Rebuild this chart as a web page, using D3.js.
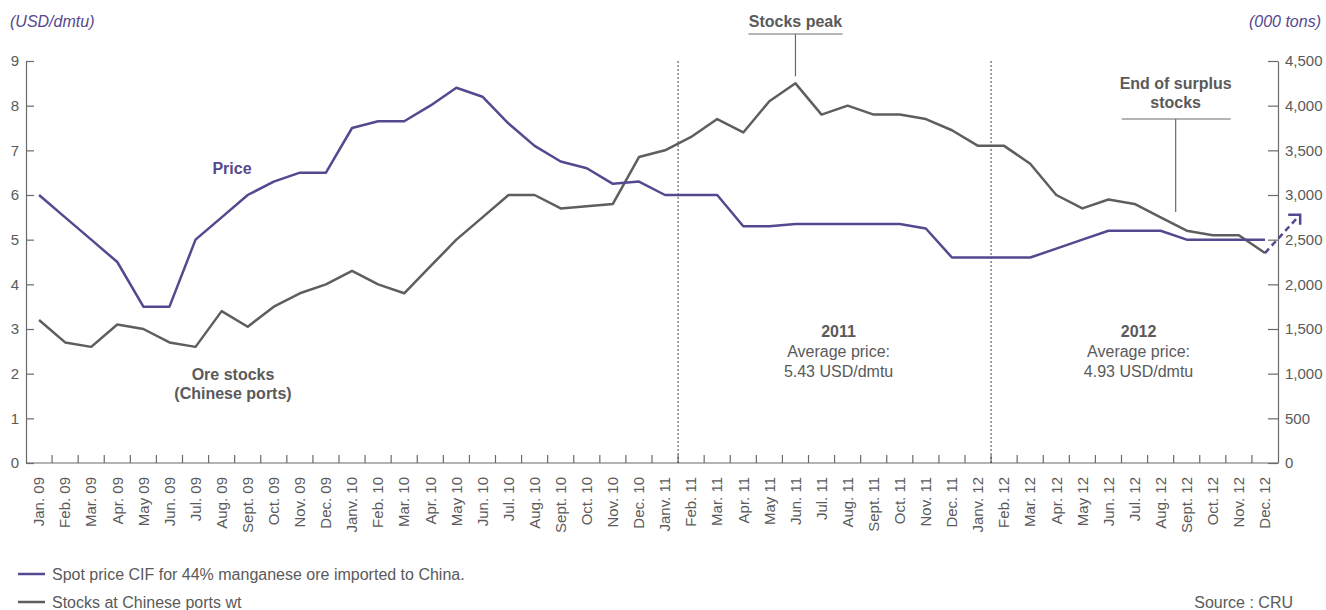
<!DOCTYPE html>
<html>
<head>
<meta charset="utf-8">
<script src="https://cdn.jsdelivr.net/npm/d3@7"></script>
<style>
  html, body { margin: 0; padding: 0; background: #fff; }
  svg { display: block; font-family: "Liberation Sans", Arial, Helvetica, sans-serif; }
</style>
</head>
<body>
<svg id="chart" width="1326" height="610"></svg>
<script>
// Months shown on the category axis
const months = [
  "Jan. 09","Feb. 09","Mar. 09","Apr. 09","May 09","Jun. 09","Jul. 09","Aug. 09","Sept. 09","Oct. 09","Nov. 09","Dec. 09",
  "Janv. 10","Feb. 10","Mar. 10","Apr. 10","May 10","Jun. 10","Jul. 10","Aug. 10","Sept. 10","Oct. 10","Nov. 10","Dec. 10",
  "Janv. 11","Feb. 11","Mar. 11","Apr. 11","May 11","Jun. 11","Jul. 11","Aug. 11","Sept. 11","Oct. 11","Nov. 11","Dec. 11",
  "Janv. 12","Feb. 12","Mar. 12","Apr. 12","May 12","Jun. 12","Jul. 12","Aug. 12","Sept. 12","Oct. 12","Nov. 12","Dec. 12"
];

// Spot price CIF, 44% Mn ore imported to China (USD/dmtu)
const price = [
  6.0, 5.5, 5.0, 4.5, 3.5, 3.5, 5.0, 5.5, 6.0, 6.3, 6.5, 6.5,
  7.5, 7.65, 7.65, 8.0, 8.4, 8.2, 7.6, 7.1, 6.75, 6.6, 6.25, 6.3,
  6.0, 6.0, 6.0, 5.3, 5.3, 5.35, 5.35, 5.35, 5.35, 5.35, 5.25, 4.6,
  4.6, 4.6, 4.6, 4.8, 5.0, 5.2, 5.2, 5.2, 5.0, 5.0, 5.0, 5.0
];

// Ore stocks at Chinese ports (000 tons)
const stocks = [
  1600, 1350, 1300, 1550, 1500, 1350, 1300, 1700, 1525, 1750, 1900, 2000,
  2150, 2000, 1900, 2200, 2500, 2750, 3000, 3000, 2850, 2875, 2900, 3425,
  3500, 3650, 3850, 3700, 4050, 4250, 3900, 4000, 3900, 3900, 3850, 3725,
  3550, 3550, 3350, 3000, 2850, 2950, 2900, 2750, 2600, 2550, 2550, 2350
];

// Axis tick values
const priceTicks = [0, 1, 2, 3, 4, 5, 6, 7, 8, 9];
const stockTicks = [0, 500, 1000, 1500, 2000, 2500, 3000, 3500, 4000, 4500];

// Outlook arrow: stocks expected to rise again after Dec. 12
const outlookTarget = 2780;

// Yearly average price annotations
const yearNotes = [
  { year: "2011", avg: 5.43 },
  { year: "2012", avg: 4.93 }
];

const PURPLE = "#55488f";
const GRAY = "#5e5e5e";
const TEXT = "#5a5a5a";
const AXIS = "#6a6a6a";
const FS = 16;

const svg = d3.select("#chart");
const plotLeft = 26, plotRight = 1278, plotTop = 61, plotBottom = 463;

const x = d3.scaleBand().domain(months).range([plotLeft, plotRight]).padding(0);
const yL = d3.scaleLinear().domain([0, 9]).range([plotBottom, plotTop]);
const yR = d3.scaleLinear().domain([0, 4500]).range([plotBottom, plotTop]);
const cx = m => x(m) + x.bandwidth() / 2;

// Left axis (price)
const gL = svg.append("g").attr("transform", `translate(${plotLeft},0)`)
  .call(d3.axisLeft(yL).tickValues(priceTicks).tickSize(-8).tickPadding(7).tickSizeOuter(0));
// Right axis (stocks)
const gR = svg.append("g").attr("transform", `translate(${plotRight},0)`)
  .call(d3.axisRight(yR).tickValues(stockTicks).tickSize(-10).tickPadding(7).tickSizeOuter(0)
    .tickFormat(d3.format(",")));
[gL, gR].forEach(g => {
  g.select(".domain").attr("stroke", AXIS).attr("stroke-width", 1.2);
  g.selectAll(".tick line").attr("stroke", AXIS).attr("stroke-width", 1.2);
  g.selectAll(".tick text").attr("fill", TEXT).attr("font-size", 15);
});

// Bottom axis: month labels, ticks on band boundaries
const gB = svg.append("g").attr("transform", `translate(0,${plotBottom})`)
  .call(d3.axisBottom(x).tickSize(0).tickPadding(0));
gB.select(".domain").remove();
gB.selectAll(".tick text")
  .attr("fill", TEXT).attr("font-size", 15)
  .attr("transform", "rotate(-90)")
  .attr("text-anchor", "end")
  .attr("x", -14).attr("y", 0).attr("dy", "0.35em");

svg.append("line").attr("x1", plotLeft).attr("x2", plotRight).attr("y1", plotBottom).attr("y2", plotBottom)
  .attr("stroke", AXIS).attr("stroke-width", 1.2);
const bounds = months.map(m => x(m)).concat([x(months[months.length - 1]) + x.bandwidth()]);
svg.append("g").selectAll("line").data(bounds.slice(1, -1)).join("line")
  .attr("x1", d => d).attr("x2", d => d)
  .attr("y1", plotBottom).attr("y2", plotBottom - 8)
  .attr("stroke", AXIS).attr("stroke-width", 1.2);

// Year separators (dotted)
const separators = ["Janv. 11", "Janv. 12"].map(m => x(m) + x.bandwidth());
separators.forEach(xx => {
  svg.append("line").attr("x1", xx).attr("x2", xx).attr("y1", plotTop).attr("y2", plotBottom)
    .attr("stroke", "#444").attr("stroke-width", 1).attr("stroke-dasharray", "2,2");
});

// Series lines
const priceLine = d3.line().x((d, i) => cx(months[i])).y(d => yL(d));
const stockLine = d3.line().x((d, i) => cx(months[i])).y(d => yR(d));

svg.append("path").datum(stocks).attr("d", stockLine)
  .attr("fill", "none").attr("stroke", GRAY).attr("stroke-width", 2.5).attr("stroke-linejoin", "round");
svg.append("path").datum(price).attr("d", priceLine)
  .attr("fill", "none").attr("stroke", PURPLE).attr("stroke-width", 2.5).attr("stroke-linejoin", "round");

// Dashed outlook arrow
const last = months.length - 1;
const ax0 = cx(months[last]), ay0 = yR(stocks[last]);
const ax1 = ax0 + x.bandwidth() * 1.35, ay1 = yR(outlookTarget);
svg.append("line").attr("x1", ax0).attr("y1", ay0).attr("x2", ax1).attr("y2", ay1)
  .attr("stroke", PURPLE).attr("stroke-width", 2.5).attr("stroke-dasharray", "6,4");
svg.append("path")
  .attr("d", `M${ax1 - 12},${ay1} L${ax1},${ay1} L${ax1},${ay1 + 10}`)
  .attr("fill", "none").attr("stroke", PURPLE).attr("stroke-width", 2.5);

// Axis units
svg.append("text").attr("x", 10).attr("y", 27).text("(USD/dmtu)")
  .attr("fill", PURPLE).attr("font-size", FS).attr("font-style", "italic");
svg.append("text").attr("x", 1321).attr("y", 27).attr("text-anchor", "end").text("(000 tons)")
  .attr("fill", PURPLE).attr("font-size", FS).attr("font-style", "italic");

// Series labels
svg.append("text").attr("x", 232).attr("y", 174).attr("text-anchor", "middle").text("Price")
  .attr("fill", PURPLE).attr("font-size", FS).attr("font-weight", "bold");
const oreLab = svg.append("text").attr("text-anchor", "middle")
  .attr("fill", TEXT).attr("font-size", FS).attr("font-weight", "bold");
oreLab.append("tspan").attr("x", 233).attr("y", 380).text("Ore stocks");
oreLab.append("tspan").attr("x", 233).attr("y", 399).text("(Chinese ports)");

// "Stocks peak" callout
const peakIdx = stocks.indexOf(d3.max(stocks));
const px = cx(months[peakIdx]);
svg.append("text").attr("x", px).attr("y", 27).attr("text-anchor", "middle").text("Stocks peak")
  .attr("fill", TEXT).attr("font-size", FS).attr("font-weight", "bold");
svg.append("line").attr("x1", px - 47).attr("x2", px + 47).attr("y1", 34).attr("y2", 34)
  .attr("stroke", AXIS).attr("stroke-width", 1.2);
svg.append("line").attr("x1", px).attr("x2", px).attr("y1", 34).attr("y2", yR(stocks[peakIdx]) - 7)
  .attr("stroke", AXIS).attr("stroke-width", 1.2);

// "End of surplus stocks" callout
const ex = x("Sept. 12") + 2;
const endLab = svg.append("text").attr("text-anchor", "middle")
  .attr("fill", TEXT).attr("font-size", FS).attr("font-weight", "bold");
endLab.append("tspan").attr("x", ex).attr("y", 89).text("End of surplus");
endLab.append("tspan").attr("x", ex).attr("y", 108).text("stocks");
svg.append("line").attr("x1", ex - 54).attr("x2", ex + 55).attr("y1", 119).attr("y2", 119)
  .attr("stroke", AXIS).attr("stroke-width", 1.2);
svg.append("line").attr("x1", ex).attr("x2", ex).attr("y1", 119).attr("y2", 212)
  .attr("stroke", AXIS).attr("stroke-width", 1.2);

// Yearly averages, centred in each year's section
const sectionEdges = separators.concat([plotRight]);
yearNotes.forEach((n, i) => {
  const mx = (sectionEdges[i] + sectionEdges[i + 1]) / 2 + 4;
  const t = svg.append("text").attr("text-anchor", "middle").attr("fill", TEXT).attr("font-size", FS);
  t.append("tspan").attr("x", mx).attr("y", 337).attr("font-weight", "bold").text(n.year);
  t.append("tspan").attr("x", mx).attr("y", 357).text("Average price:");
  t.append("tspan").attr("x", mx).attr("y", 377).text(`${n.avg.toFixed(2)} USD/dmtu`);
});

// Legend
const legend = [
  { label: "Spot price CIF for 44% manganese ore imported to China.", color: PURPLE },
  { label: "Stocks at Chinese ports wt", color: GRAY }
];
legend.forEach((l, i) => {
  const ly = 574 + i * 28;
  svg.append("line").attr("x1", 18).attr("x2", 45).attr("y1", ly).attr("y2", ly)
    .attr("stroke", l.color).attr("stroke-width", 2.5);
  svg.append("text").attr("x", 52).attr("y", ly + 6).text(l.label)
    .attr("fill", TEXT).attr("font-size", FS);
});
svg.append("text").attr("x", 1293).attr("y", 608).attr("text-anchor", "end").text("Source : CRU")
  .attr("fill", TEXT).attr("font-size", FS);
</script>
</body>
</html>
